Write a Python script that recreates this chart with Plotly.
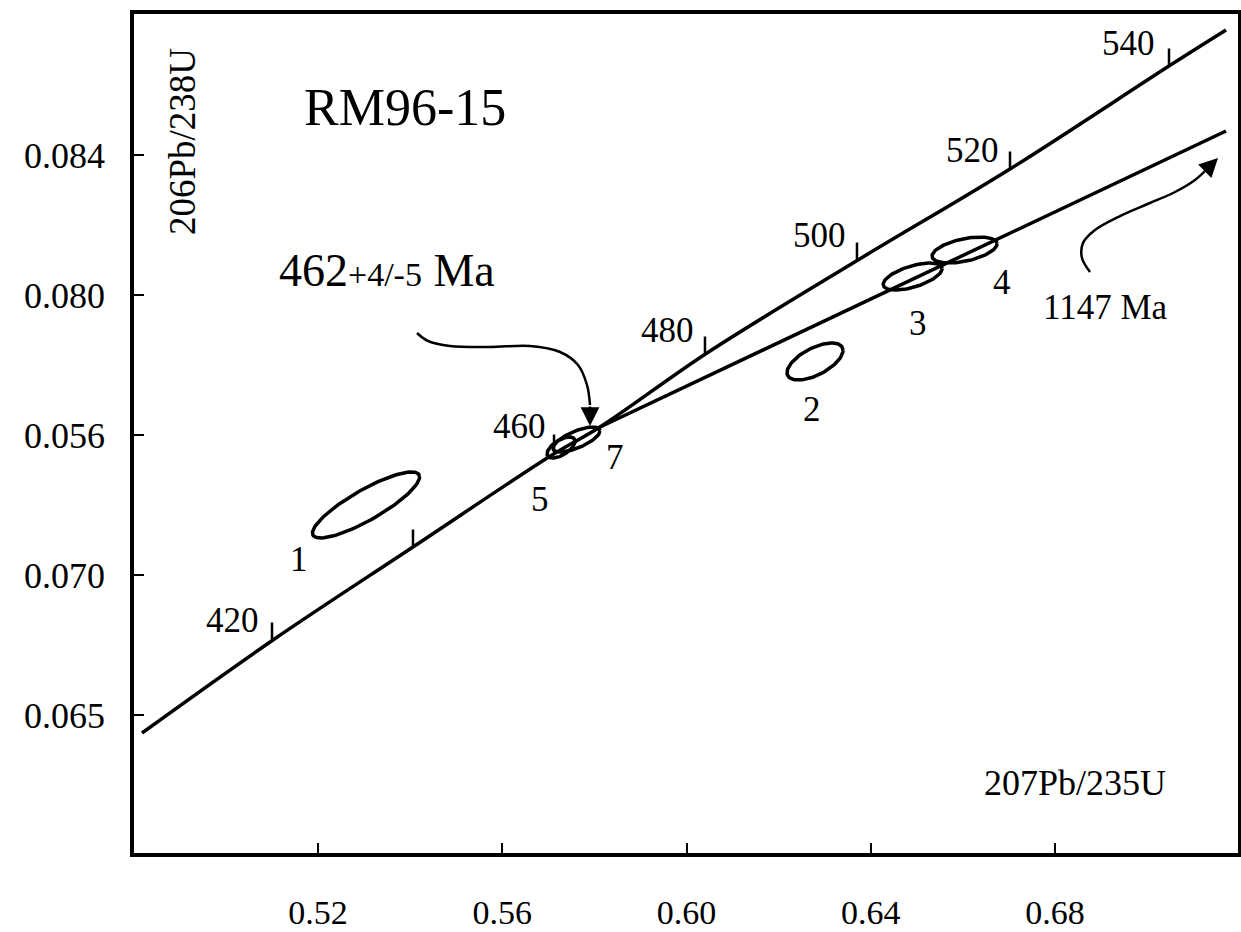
import numpy as np
import plotly.graph_objects as go

# ---------------- data ----------------
# axis ticks
x_tickvals = [0.52, 0.56, 0.60, 0.64, 0.68]
x_ticktext = ["0.52", "0.56", "0.60", "0.64", "0.68"]
y_tickvals = [0.084, 0.080, 0.076, 0.072, 0.068]
y_ticktext = ["0.084", "0.080", "0.056", "0.070", "0.065"]

# concordia curve (207Pb/235U, 206Pb/238U)
conc_x = [0.48179, 0.51023, 0.54062, 0.5708, 0.58122, 0.60445, 0.63723, 0.67023, 0.70475, 0.71713]
conc_y = [0.067486, 0.070143, 0.0728, 0.075429, 0.076229, 0.078343, 0.081, 0.0836, 0.086543, 0.087571]

# discordia line (lower intercept -> towards 1147 Ma)
disc_x = [0.58079, 0.71713]
disc_y = [0.0762, 0.084686]

# age ticks on concordia (Ma)
age_vals = [420, 440, 460, 480, 500, 520, 540]
age_tick_x = [0.51001, 0.54062, 0.57124, 0.60401, 0.63701, 0.67023, 0.70475]
age_tick_y = [0.070143, 0.0728, 0.075514, 0.078314, 0.081, 0.0836, 0.086543]
age_tick_len = 0.0005
age_label_text = ["420", "460", "480", "500", "520", "540"]
age_label_x = [0.50133, 0.56385, 0.59598, 0.62898, 0.66198, 0.69585]
age_label_y = [0.070714, 0.076229, 0.0790, 0.081714, 0.084143, 0.0872]

# analyses: error ellipses (centre, half-width, half-height, correlation)
ell_name = ["1", "2", "3", "4", "5", "7"]
ell_cx = [0.53042, 0.6279, 0.6491, 0.66036, 0.57276, 0.57612]
ell_cy = [0.0740, 0.0781, 0.080529, 0.081286, 0.075643, 0.075871]
ell_dx = [0.01162, 0.00608, 0.0064, 0.00706, 0.00304, 0.0051]
ell_dy = [0.000943, 0.000529, 0.000386, 0.000371, 0.00030, 0.000357]
ell_rho = [0.85, 0.60, 0.58, 0.47, 0.60, 0.69]
ell_label_x = [0.51588, 0.62725, 0.65026, 0.6685, 0.5682, 0.58448]
ell_label_y = [0.072429, 0.076743, 0.0792, 0.080371, 0.074171, 0.075371]

# curved pointer arrows
arr462_x = [0.54149, 0.54388, 0.54866, 0.55734, 0.56602, 0.57254, 0.57645, 0.5784, 0.57905]
arr462_y = [0.078914, 0.078686, 0.078543, 0.078514, 0.078543, 0.078371, 0.0780, 0.077429, 0.076857]
arr462_tip = (0.57905, 0.076257)
arr1147_x = [0.6876, 0.68586, 0.68608, 0.68868, 0.69411, 0.70062, 0.70605, 0.71039, 0.71322]
arr1147_y = [0.080657, 0.081057, 0.081486, 0.081857, 0.082257, 0.082629, 0.082943, 0.083286, 0.083629]
arr1147_tip = (0.7154, 0.083914)

FONT = "Liberation Serif, Times New Roman, serif"
BLACK = "black"

fig = go.Figure()

# concordia
fig.add_trace(go.Scatter(x=conc_x, y=conc_y, mode="lines", line=dict(color=BLACK, width=3.5),
                         line_shape="spline", hoverinfo="skip"))
# discordia
fig.add_trace(go.Scatter(x=disc_x, y=disc_y, mode="lines", line=dict(color=BLACK, width=3.5),
                         hoverinfo="skip"))
# age ticks
tx, ty = [], []
for x0, y0 in zip(age_tick_x, age_tick_y):
    tx += [x0, x0, None]
    ty += [y0, y0 + age_tick_len, None]
fig.add_trace(go.Scatter(x=tx, y=ty, mode="lines", line=dict(color=BLACK, width=2.5), hoverinfo="skip"))

# ellipses
t = np.linspace(0, 2 * np.pi, 120)
for cx, cy, dx, dy, r in zip(ell_cx, ell_cy, ell_dx, ell_dy, ell_rho):
    ex = cx + dx * np.cos(t)
    ey = cy + dy * (r * np.cos(t) + np.sqrt(1 - r * r) * np.sin(t))
    fig.add_trace(go.Scatter(x=ex, y=ey, mode="lines", line=dict(color=BLACK, width=3.5),
                             hoverinfo="skip"))

# arrow curves
fig.add_trace(go.Scatter(x=arr462_x, y=arr462_y, mode="lines", line=dict(color=BLACK, width=2.5),
                         line_shape="spline", hoverinfo="skip"))
fig.add_trace(go.Scatter(x=arr1147_x, y=arr1147_y, mode="lines", line=dict(color=BLACK, width=2.5),
                         line_shape="spline", hoverinfo="skip"))

annotations = []
# arrow heads
annotations.append(dict(x=arr462_tip[0], y=arr462_tip[1], ax=arr462_x[-1], ay=arr462_y[-1],
                        xref="x", yref="y", axref="x", ayref="y", showarrow=True,
                        arrowhead=2, arrowsize=1.5, arrowwidth=2.5, arrowcolor=BLACK, text=""))
annotations.append(dict(x=arr1147_tip[0], y=arr1147_tip[1], ax=arr1147_x[-1], ay=arr1147_y[-1],
                        xref="x", yref="y", axref="x", ayref="y", showarrow=True,
                        arrowhead=2, arrowsize=1.5, arrowwidth=2.5, arrowcolor=BLACK, text=""))

def label(x, y, text, size, angle=0):
    annotations.append(dict(x=x, y=y, xref="x", yref="y", text=text, showarrow=False,
                            textangle=angle, font=dict(family=FONT, size=size, color=BLACK),
                            xanchor="center", yanchor="middle"))

for s, x, y in zip(age_label_text, age_label_x, age_label_y):
    label(x, y, s, 35)
for s, x, y in zip(ell_name, ell_label_x, ell_label_y):
    label(x, y, s, 35)

label(0.53889, 0.085371, "RM96-15", 52)
label(0.53500, 0.080714, '462<span style="font-size:34px">+4/-5</span> Ma', 46)
label(0.69107, 0.07965, "1147 Ma", 35)
label(0.68434, 0.066057, "207Pb/235U", 36)
label(0.49047, 0.084371, "206Pb/238U", 37, angle=-90)

fig.update_layout(
    width=1241, height=932,
    margin=dict(l=134, r=3, t=14, b=79, autoexpand=False),
    paper_bgcolor="white", plot_bgcolor="white",
    showlegend=False,
    annotations=annotations,
    font=dict(family=FONT, color=BLACK),
)
fig.update_xaxes(range=[0.48005, 0.71973], tickvals=x_tickvals, ticktext=x_ticktext,
                 showline=True, linecolor=BLACK, linewidth=3.5, mirror=True,
                 ticks="inside", ticklen=10, tickwidth=2, tickcolor=BLACK,
                 showgrid=False, zeroline=False, ticklabelstandoff=26, automargin=False,
                 tickfont=dict(family=FONT, size=34, color=BLACK))
fig.update_yaxes(range=[0.064057, 0.088029], tickvals=y_tickvals, ticktext=y_ticktext,
                 showline=True, linecolor=BLACK, linewidth=3.5, mirror=True,
                 ticks="inside", ticklen=10, tickwidth=2, tickcolor=BLACK,
                 showgrid=False, zeroline=False, ticklabelstandoff=18, automargin=False,
                 tickfont=dict(family=FONT, size=36, color=BLACK))

fig.write_html("out.html")
